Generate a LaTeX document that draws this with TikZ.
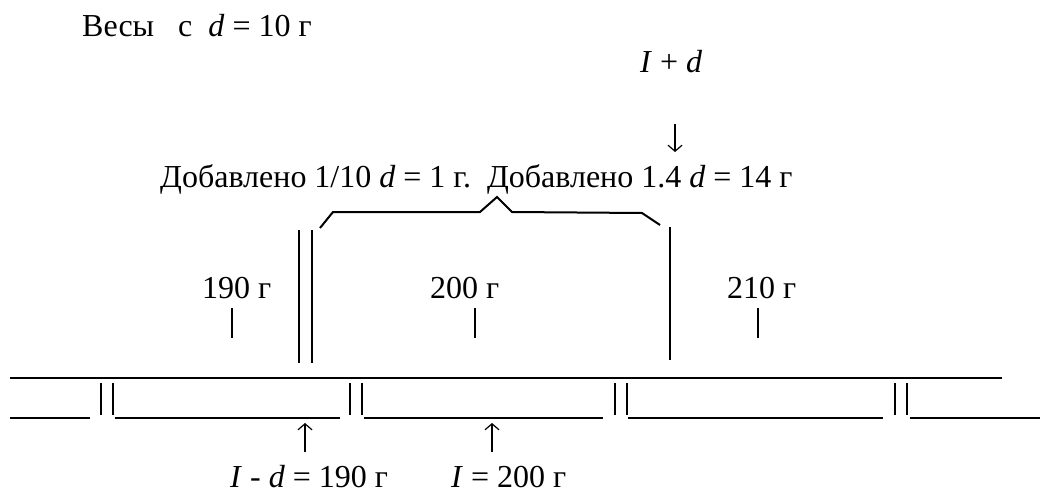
\documentclass[tikz,border=0pt]{standalone}
\usepackage{fontspec}
\setmainfont{Liberation Serif}
\newfontfamily\timesfam{Liberation Serif}
\usetikzlibrary{arrows.meta}
\newcommand{\bigfs}{\timesfam\fontsize{32}{38}\selectfont}
\tikzset{
  lbl/.style={inner sep=0pt, anchor=base west, font=\bigfs},
  wtick/.style={line width=1.1pt},
  beam/.style={line width=1.3pt},
  post/.style={line width=2.4pt},
  arr/.style={line width=1.2pt, -{Straight Barb[length=6pt,width=14pt]}}
}
\begin{document}
\begin{tikzpicture}[x=1pt,y=-1pt]
        \useasboundingbox (0,0) rectangle (1040,492);
        % Labels (pixel coordinates, y downwards)
        \node[lbl] (title) at (82,37) {Весы\ \ \ с\ \ \textit{d} = 10 г};
        \node[lbl] (plusd) at (640,73) {\textit{I} + \textit{d}};
        \node[lbl] (added) at (160,187) {Добавлено 1/10 \textit{d} = 1 г.\ \ Добавлено 1.4 \textit{d} = 14 г};
        \node[lbl] (wa) at (202,298) {190 г};
        \node[lbl] (wb) at (430,298) {200 г};
        \node[lbl] (wc) at (727,298) {210 г};
        \node[lbl] (lowa) at (230,487) {\textit{I} - \textit{d} = 190 г};
        \node[lbl] (lowb) at (451,487) {\textit{I} = 200 г};
        % Small marks under the weights
        \draw[wtick] (232,308) -- (232,338);
        \draw[wtick] (475,308) -- (475,338);
        \draw[wtick] (758,308) -- (758,338);
        % Brace over the added weights
        \draw[post, line width=2pt] (320,228) -- (333,212) -- (480,212) -- (497,197)
              -- (512,212) -- (642,213) -- (660,225);
        % Thick pointers
        \draw[post] (299,230) -- (299,363);
        \draw[post] (312,230) -- (312,363);
        \draw[post] (670,227) -- (670,360);
        % Scale beam
        \draw[beam] (10,378) -- (1002,378);
        \draw[beam] (10,418) -- (90,418);
        \draw[beam] (115,418) -- (340,418);
        \draw[beam] (364,418) -- (603,418);
        \draw[beam] (628,418) -- (883,418);
        \draw[beam] (910,418) -- (1040,418);
        \foreach \xx in {101,113,350,362,615,627,895,907}
          \draw[beam] (\xx,383) -- (\xx,415);
        % Arrows
        \coordinate (a1) at (305,452);
        \coordinate (a1t) at (305,423);
        \coordinate (a2) at (492,452);
        \coordinate (a2t) at (492,423);
        \coordinate (a3) at (675,124);
        \coordinate (a3t) at (675,152);
        \draw[arr] (a1) -- (a1t);
        \draw[arr] (a2) -- (a2t);
        \draw[arr] (a3) -- (a3t);
\end{tikzpicture}
\end{document}
